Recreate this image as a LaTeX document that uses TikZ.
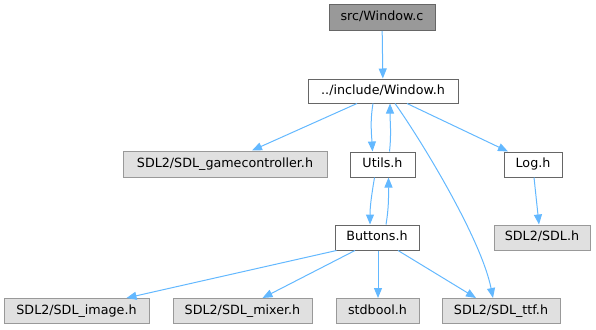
\documentclass[tikz,border=0pt]{standalone}
\usepackage{fontspec}
\setmainfont{DejaVu Sans}
\usetikzlibrary{arrows.meta,calc}
\definecolor{edgeblue}{HTML}{63B8FF}
\definecolor{rootfill}{HTML}{999999}
\definecolor{rootline}{HTML}{666666}
\definecolor{sysfill}{HTML}{E0E0E0}
\definecolor{sysline}{HTML}{999999}
\begin{document}
\begin{tikzpicture}[x=1pt,y=-1pt,
  filebox/.style={draw=rootline,fill=white,line width=1pt,inner sep=0pt,
    font=\fontsize{12.7}{15}\selectfont,text=black,
    text height=9.4pt,text depth=2.6pt},
  rootbox/.style={filebox,fill=rootfill},
  sysbox/.style={filebox,draw=sysline,fill=sysfill},
  dep/.style={draw=edgeblue,line width=1pt,-{Triangle[length=10pt,width=8pt]}}
]
\useasboundingbox (0,0) rectangle (596,329);

% file nodes
\node[rootbox,minimum width=106pt,minimum height=26pt] (src) at (382,17.5) {src/Window.c};
\node[filebox,minimum width=150pt,minimum height=24pt] (win) at (383,91) {../include/Window.h};
\node[sysbox,minimum width=204pt,minimum height=26pt] (gc) at (225,164) {SDL2/SDL\_gamecontroller.h};
\node[filebox,minimum width=65pt,minimum height=25pt] (utils) at (382.5,164.5) {Utils.h};
\node[filebox,minimum width=58pt,minimum height=25pt] (log) at (533,164.5) {Log.h};
\node[filebox,minimum width=84pt,minimum height=25pt] (buttons) at (377,237.5) {Buttons.h};
\node[sysbox,minimum width=96pt,minimum height=25pt] (sdl) at (542,237.5) {SDL2/SDL.h};
\node[sysbox,minimum width=145pt,minimum height=25pt] (image) at (76.5,311) {SDL2/SDL\_image.h};
\node[sysbox,minimum width=139pt,minimum height=25pt] (mixer) at (242.5,311) {SDL2/SDL\_mixer.h};
\node[sysbox,minimum width=83pt,minimum height=25pt] (stdbool) at (377.5,311) {stdbool.h};
\node[sysbox,minimum width=118pt,minimum height=25pt] (ttf) at (501,311) {SDL2/SDL\_ttf.h};

% include edges
\draw[dep] (src) -- (win);
\draw[dep] ($(win.south)+(-26,0)$) -- ($(gc.north)+(27,0)$);
\draw[dep] ($(win.south)+(-10,0)$) .. controls +(-3,18) and +(-1,-18) .. ($(utils.north)+(-10,0)$);
\draw[dep] ($(utils.north)+(7,0)$) .. controls +(2,-18) and +(0,18) .. ($(win.south)+(7,0)$);
\draw[dep] ($(win.south)+(12,0)$) .. controls +(25,35) and +(-12,-60) .. ($(ttf.north)+(-8,0)$);
\draw[dep] ($(win.south)+(24,0)$) -- ($(log.north)+(-25,0)$);
\draw[dep] ($(log.south)+(1,0)$) -- ($(sdl.north)+(-3,0)$);
\draw[dep] ($(utils.south)+(-8,0)$) .. controls +(-3,18) and +(0,-18) .. ($(buttons.north)+(-7,0)$);
\draw[dep] ($(buttons.north)+(9,0)$) .. controls +(3,-18) and +(0,18) .. ($(utils.south)+(6,0)$);
\draw[dep] ($(buttons.south west)+(2,0)$) -- ($(image.north)+(50,0)$);
\draw[dep] ($(buttons.south)+(-22,0)$) -- ($(mixer.north)+(20,0)$);
\draw[dep] ($(buttons.south)+(1,0)$) -- ($(stdbool.north)+(0.5,0)$);
\draw[dep] ($(buttons.south)+(21,0)$) -- ($(ttf.north)+(-25,0)$);
\end{tikzpicture}
\end{document}
